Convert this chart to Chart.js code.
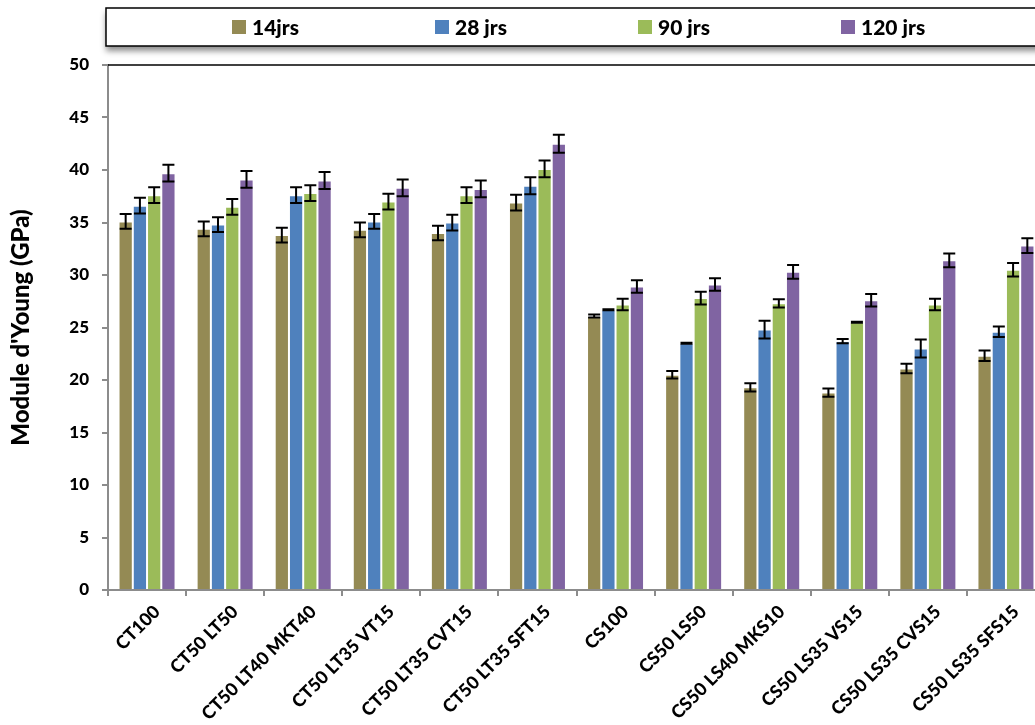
<!DOCTYPE html>
<html>
<head>
<meta charset="utf-8">
<script src="https://cdn.jsdelivr.net/npm/chart.js@4"></script>
<style>
  html, body { margin: 0; padding: 0; overflow: hidden; background: #fff; }
  #wrap { width: 1050px; height: 725px; position: relative; }
</style>
</head>
<body>
<div id="wrap"><canvas id="young-chart"></canvas></div>
<script>
const categories = [
  "CT100", "CT50 LT50", "CT50 LT40 MKT40", "CT50 LT35 VT15", "CT50 LT35 CVT15", "CT50 LT35 SFT15",
  "CS100", "CS50 LS50", "CS50 LS40 MKS10", "CS50 LS35 VS15", "CS50 LS35 CVS15", "CS50 LS35 SFS15",
];
const seriesNames = ["14jrs", "28 jrs", "90 jrs", "120 jrs"];
const seriesColors = ["#948A54", "#4F81BD", "#9BBB59", "#8064A2"];

const values14 = [35.1, 34.4, 33.8, 34.3, 34.0, 36.9, 26.1, 20.5, 19.3, 18.8, 21.1, 22.3];
const values28 = [36.6, 34.8, 37.6, 35.1, 35.0, 38.5, 26.7, 23.5, 24.8, 23.7, 23.0, 24.6];
const values90 = [37.6, 36.5, 37.8, 37.0, 37.6, 40.1, 27.2, 27.8, 27.3, 25.5, 27.2, 30.5];
const values120 = [39.7, 39.1, 39.0, 38.3, 38.2, 42.5, 28.9, 29.1, 30.3, 27.6, 31.4, 32.8];

// error bar half-widths (GPa)
const err14 = [0.7, 0.7, 0.7, 0.7, 0.7, 0.75, 0.15, 0.35, 0.4, 0.4, 0.45, 0.5];
const err28 = [0.75, 0.7, 0.75, 0.7, 0.75, 0.8, 0.05, 0.05, 0.85, 0.2, 0.85, 0.5];
const err90 = [0.75, 0.75, 0.75, 0.75, 0.75, 0.8, 0.55, 0.6, 0.4, 0.05, 0.55, 0.65];
const err120 = [0.8, 0.8, 0.8, 0.8, 0.8, 0.85, 0.6, 0.6, 0.65, 0.6, 0.65, 0.7];

const yTicks = [0, 5, 10, 15, 20, 25, 30, 35, 40, 45, 50];

const allValues = [values14, values28, values90, values120];
const allErrors = [err14, err28, err90, err120];

const FONT = "Lato, 'Open Sans', sans-serif";

// Error bars drawn with the library's scales
const errorBars = {
  id: "errorBars",
  afterDatasetsDraw(chart) {
    const ctx = chart.ctx;
    const y = chart.scales.y;
    ctx.save();
    ctx.strokeStyle = "#000";
    ctx.lineWidth = 2;
    chart.data.datasets.forEach((ds, i) => {
      const meta = chart.getDatasetMeta(i);
      meta.data.forEach((bar, j) => {
        const v = ds.data[j];
        const e = ds.errors[j];
        const top = y.getPixelForValue(v + e);
        const bot = y.getPixelForValue(v - e);
        const half = 6;
        ctx.beginPath();
        ctx.moveTo(bar.x, top);
        ctx.lineTo(bar.x, bot);
        ctx.moveTo(bar.x - half, top);
        ctx.lineTo(bar.x + half, top);
        ctx.moveTo(bar.x - half, bot);
        ctx.lineTo(bar.x + half, bot);
        ctx.stroke();
      });
    });
    ctx.restore();
  },
};

// Boxed legend + top frame line
const boxLegend = {
  id: "boxLegend",
  afterDraw(chart) {
    const ctx = chart.ctx;
    const area = chart.chartArea;
    ctx.save();
    // top line of the plot
    ctx.strokeStyle = "#000";
    ctx.lineWidth = 1.5;
    ctx.beginPath();
    ctx.moveTo(area.left, area.top);
    ctx.lineTo(area.right + 10, area.top);
    ctx.stroke();

    // legend box with shadow
    ctx.shadowColor = "rgba(0,0,0,0.45)";
    ctx.shadowBlur = 6;
    ctx.shadowOffsetY = 5;
    ctx.fillStyle = "#fff";
    ctx.fillRect(106, 8, 1000, 38);
    ctx.shadowColor = "transparent";
    ctx.lineWidth = 1.5;
    ctx.strokeRect(106, 8, 1000, 38);

    ctx.font = "900 21px " + FONT;
    ctx.textBaseline = "middle";
    ctx.textAlign = "left";
    chart.data.datasets.forEach((ds, i) => {
      const x = 232 + i * 203;
      ctx.fillStyle = ds.backgroundColor;
      ctx.fillRect(x, 20, 14, 14);
      ctx.fillStyle = "#000";
      ctx.fillText(ds.label, x + 20, 28);
    });
    ctx.restore();
  },
};

const datasets = seriesNames.map((name, i) => ({
  label: name,
  data: allValues[i],
  errors: allErrors[i],
  backgroundColor: seriesColors[i],
  borderColor: "rgba(255,255,255,0.45)",
  borderWidth: 1,
}));

new Chart(document.getElementById("young-chart"), {
  type: "bar",
  data: { labels: categories, datasets: datasets },
  options: {
    responsive: true,
    maintainAspectRatio: false,
    animation: false,
    layout: { padding: { top: 65, right: 5, left: 0, bottom: 0 } },
    datasets: {
      bar: { categoryPercentage: 0.73, barPercentage: 1.0 },
    },
    scales: {
      x: {
        grid: {
          display: true,
          drawOnChartArea: false,
          offset: true,
          tickLength: 6,
          color: "#8c8c8c",
          lineWidth: 2,
        },
        border: { color: "#8c8c8c", width: 2 },
        ticks: {
          autoSkip: false,
          minRotation: 45,
          maxRotation: 45,
          color: "#000",
          padding: 5,
          labelOffset: 10,
          font: { family: FONT, size: 18, weight: "900" },
        },
        afterFit(scale) {
          scale.height = 135;
        },
      },
      y: {
        min: 0,
        max: 50,
        afterBuildTicks(scale) {
          scale.ticks = yTicks.map((v) => ({ value: v }));
        },
        grid: {
          display: true,
          drawOnChartArea: false,
          tickLength: 6,
          color: "#8c8c8c",
          lineWidth: 2,
        },
        border: { color: "#8c8c8c", width: 2 },
        ticks: {
          color: "#000",
          padding: 13,
          font: { family: FONT, size: 17, weight: "900" },
        },
        title: {
          display: true,
          text: "Module d'Young (GPa)",
          color: "#000",
          padding: { top: 7, bottom: 0 },
          font: { family: FONT, size: 24, weight: "900" },
        },
        afterFit(scale) {
          scale.width = 108;
        },
      },
    },
    plugins: {
      legend: { display: false },
      tooltip: { enabled: false },
    },
  },
  plugins: [errorBars, boxLegend],
});
</script>
</body>
</html>
